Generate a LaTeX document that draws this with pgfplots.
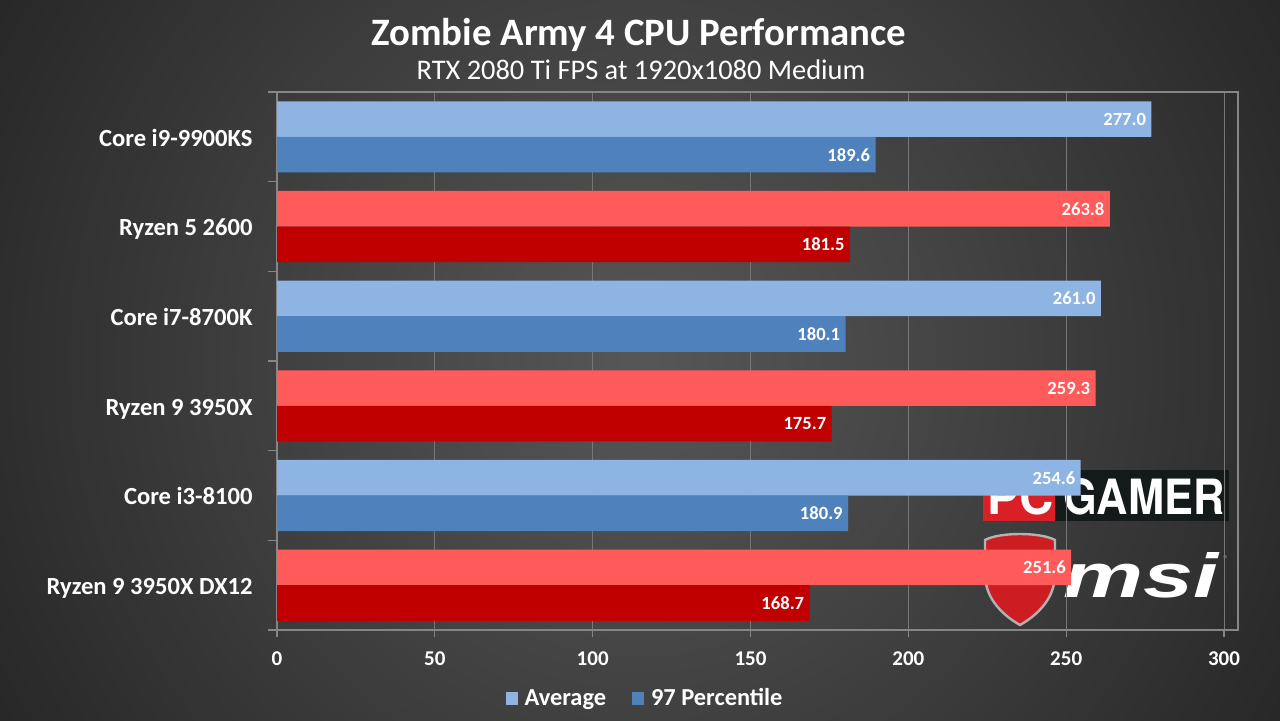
\documentclass[border=0pt]{standalone}
\usepackage{fontspec}
\setmainfont{Carlito}
\newfontfamily\logofont{TeX Gyre Heros}
\newfontfamily\msifont{Liberation Sans}
\usepackage{graphicx}
\usepackage{pgfplots}
\pgfplotsset{compat=1.18}
\definecolor{avgblue}{RGB}{142,180,227}
\definecolor{pctblue}{RGB}{79,129,189}
\definecolor{avgred}{RGB}{255,91,91}
\definecolor{pctred}{RGB}{192,0,0}
\definecolor{axgray}{RGB}{134,134,134}
\definecolor{grdgray}{RGB}{118,118,118}
\definecolor{pcred}{RGB}{218,32,39}
\definecolor{pcblack}{RGB}{20,26,26}
\definecolor{shieldred}{RGB}{204,30,34}
\pgfdeclareradialshading{bgshade}{\pgfpoint{0bp}{0bp}}{rgb(0bp)=(0.34,0.34,0.34); rgb(11bp)=(0.255,0.255,0.255); rgb(20bp)=(0.18,0.18,0.18); rgb(23bp)=(0.155,0.155,0.155); rgb(50bp)=(0.15,0.15,0.15)}
\begin{document}
\begin{tikzpicture}
\useasboundingbox (0,0) rectangle (640pt,360pt);
\begin{scope}
\clip (0,0) rectangle (640pt,360pt);
\shade[shading=bgshade] (-80pt,-220pt) rectangle (720pt,580pt);
\end{scope}
% titles
\node[anchor=base, text=white, font=\fontsize{19.4}{23}\selectfont\bfseries] at (319.5pt,337.5pt) {Zombie Army 4 CPU Performance};
\node[anchor=base, text=white, font=\fontsize{14.2}{17}\selectfont] at (320.5pt,320.5pt) {RTX 2080 Ti FPS at 1920x1080 Medium};
% logos (decoration)
\fill[pcred] (491.5pt,99.5pt) rectangle (527.5pt,125pt);
\fill[pcblack] (527.5pt,99.5pt) rectangle (614.5pt,125pt);
\node[anchor=south west, inner sep=0pt, text=white] at (493.5pt,102.5pt) {\resizebox{33pt}{18pt}{\logofont\bfseries PC}};
\node[anchor=south west, inner sep=0pt, text=white] at (531.5pt,102.5pt) {\resizebox{80.5pt}{18pt}{\logofont\bfseries GAMER}};
\fill[shieldred, draw=gray!60, line width=1.2pt] (492.5pt,90pt) .. controls (500pt,94pt) and (520pt,94pt) .. (527.5pt,90pt) -- (527.5pt,72pt) .. controls (527pt,60pt) and (518pt,52pt) .. (510pt,47.5pt) .. controls (502pt,52pt) and (493pt,60pt) .. (492.5pt,72pt) -- cycle;
\node[anchor=south west, inner sep=0pt, text=white] at (531.5pt,61pt) {\resizebox{77.5pt}{22.5pt}{\msifont\bfseries\itshape msi}};
\node[anchor=center, inner sep=0pt, text=gray!70, font=\fontsize{5}{6}\selectfont] at (613pt,80.5pt) {®};
\begin{axis}[
  at={(138.5pt,45pt)}, anchor=south west,
  scale only axis, width=480.5pt, height=269pt,
  xbar,
  xmin=0, xmax=304.43, ymin=-0.5, ymax=5.5, y dir=reverse,
  bar width=0.397,
  point meta=x,
  /pgf/number format/assume math mode=true,
  xtick={0,50,...,300},
  ytick={0,...,5},
  yticklabels={Core i9-9900KS, Ryzen 5 2600, Core i7-8700K, Ryzen 9 3950X, Core i3-8100, Ryzen 9 3950X DX12},
  minor ytick={-0.5,0.5,...,5.5},
  xtick pos=bottom, ytick pos=left,
  tick align=outside,
  major tick length=3.5pt,
  minor tick length=4.5pt,
  major y tick style={draw=none},
  tick style={axgray, line width=0.6pt},
  axis line style={axgray, line width=0.6pt},
  xmajorgrids=true,
  major x grid style={grdgray, line width=0.5pt},
  xticklabel style={text=white, font=\fontsize{10.5}{12}\selectfont\bfseries, yshift=-4pt},
  yticklabel style={text=white, font=\fontsize{12.3}{14}\selectfont\bfseries, anchor=base east, yshift=-4.6pt, inner sep=0pt, xshift=-8.5pt},
  nodes near coords={\pgfmathprintnumber[fixed,fixed zerofill,precision=1]{\pgfplotspointmeta}},
  nodes near coords style={anchor=east, text=white, font=\fontsize{9.3}{11}\selectfont\bfseries, inner xsep=2.5pt},
  legend image code/.code={\fill[#1] (0pt,-3pt) rectangle (6pt,3.3pt);},
  legend style={at={(0.384,-0.128)}, anchor=center, draw=none, fill=none, text=white, font=\fontsize{12.2}{14}\selectfont\bfseries, legend columns=2, /tikz/every odd column/.append style={column sep=1.5pt}, /tikz/every even column/.append style={column sep=11pt}},
]
\addplot[fill=avgblue, draw=none, bar shift=-0.1985] coordinates {(277.0,0) (261.0,2) (254.6,4)};
\addlegendentry{Average}
\addplot[fill=pctblue, draw=none, bar shift=0.1985] coordinates {(189.6,0) (180.1,2) (180.9,4)};
\addlegendentry{97 Percentile}
\addplot[fill=avgred, draw=none, bar shift=-0.1985, forget plot] coordinates {(263.8,1) (259.3,3) (251.6,5)};
\addplot[fill=pctred, draw=none, bar shift=0.1985, forget plot] coordinates {(181.5,1) (175.7,3) (168.7,5)};
\end{axis}
\end{tikzpicture}
\end{document}
